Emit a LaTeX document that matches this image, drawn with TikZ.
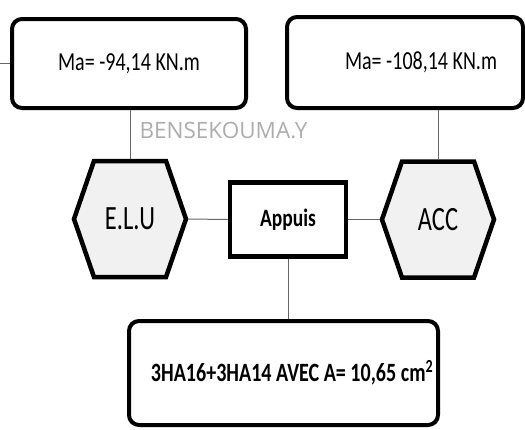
\documentclass[tikz,border=0pt]{standalone}
\usepackage{fontspec}
\setmainfont{Carlito}
\newfontfamily\filigrane{Open Sans}
\usepackage{graphicx}
\usetikzlibrary{shapes.symbols}

% narrow text, squeezed horizontally
\newcommand{\serre}[2]{\scalebox{#1}[1]{#2}}

\tikzset{
  cadre/.style={draw, line width=4pt, rounded corners=10pt, fill=white, inner sep=0pt},
  hexa/.style={signal, signal to=east and west, signal pointer angle=142,
    draw, line width=4.5pt, fill=gray!11, inner sep=0pt,
    minimum width=112pt, minimum height=116pt},
  carre/.style={draw, line width=4.5pt, fill=white, minimum width=116pt, minimum height=74pt},
  lien/.style={draw=black!60, line width=1pt},
}

\begin{document}
\begin{tikzpicture}[x=1pt, y=-1pt]
		\useasboundingbox (0,0) rectangle (525,429);
		% moments
		\node[cadre, minimum width=234pt, minimum height=89pt] (mELU) at (129,63.5)
			{\fontsize{26}{30}\selectfont\serre{0.77}{Ma= -94,14 KN.m}};
		\node[cadre, minimum width=236pt, minimum height=91pt] (mACC) at (405,62.5)
			{\fontsize{26}{30}\selectfont\hspace*{32pt}\serre{0.77}{Ma= -108,14 KN.m}};
		\node[text=black!32] (sign) at (223.5,130)
			{\filigrane\fontsize{22.5}{26}\selectfont BENSEKOUMA.Y};
		% combinaisons
		\node[hexa] (elu) at (130,219) {\fontsize{34}{38}\selectfont\serre{0.72}{E.L.U}};
		\node[hexa] (acc) at (438,219.5) {\fontsize{34}{38}\selectfont\serre{0.72}{ACC}};
		\node[carre] (app) at (288,219.5) {\fontsize{25}{29}\selectfont\bfseries\serre{0.78}{Appuis}};
		% ferraillage
		\node[cadre, minimum width=309pt, minimum height=104pt] (fer) at (283.5,373)
			{\fontsize{26.4}{30}\selectfont\bfseries\hspace*{17pt}\serre{0.76}{3HA16+3HA14 AVEC A= 10,65 cm\textsuperscript{2}}};
		\coordinate (bord) at (0,63.5);
		% liaisons
		\draw[lien] (mELU.west) -- (bord);
		\draw[lien] (elu.north) -- (elu.north |- mELU.south);
		\draw[lien] (acc.north) -- (acc.north |- mACC.south);
		\draw[lien] (elu.east) -- (app.west);
		\draw[lien] (app.east) -- (acc.west);
		\draw[lien] (app.south) -- (app.south |- fer.north);
\end{tikzpicture}
\end{document}
